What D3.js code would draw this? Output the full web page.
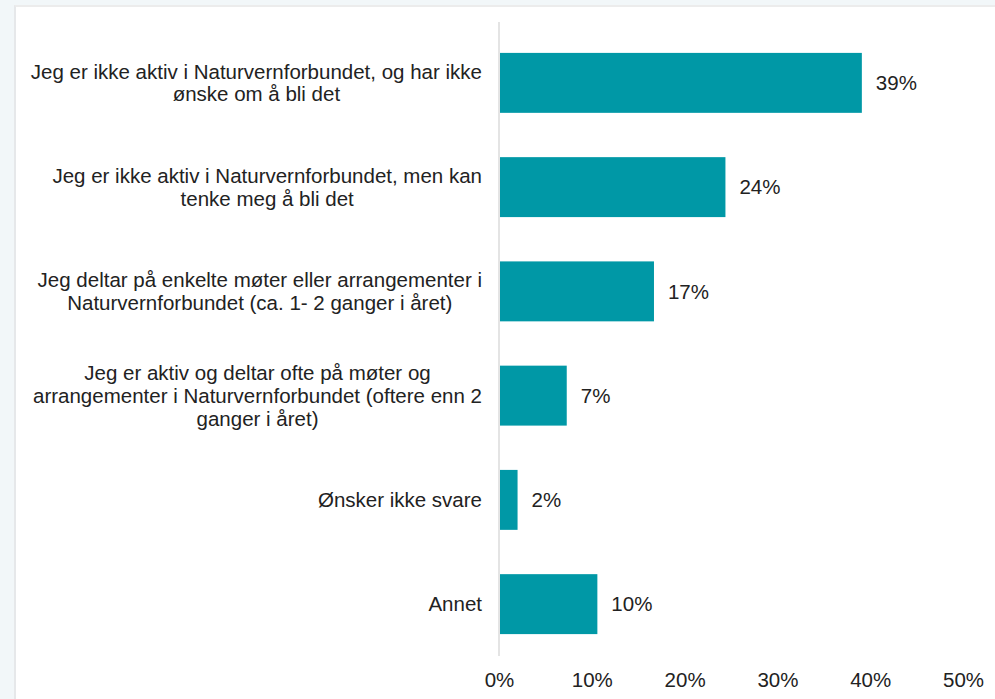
<!DOCTYPE html>
<html>
<head>
<meta charset="utf-8">
<script src="https://cdn.jsdelivr.net/npm/d3@7"></script>
<style>
  html, body { margin: 0; padding: 0; background: #f2f7f9; }
  #chart { position: absolute; left: 14px; top: 5px; width: 981px; height: 694px;
           background: #fff; border-left: 2px solid #e6e8ea; border-top: 2px solid #ececec; }
  text { font-family: "Liberation Sans", Arial, sans-serif; }
</style>
</head>
<body>
<div id="chart"></div>
<script>
// categories (each entry = lines of the wrapped label)
const categories = [
  ["Jeg er ikke aktiv i Naturvernforbundet, og har ikke", "ønske om å bli det"],
  ["Jeg er ikke aktiv i Naturvernforbundet, men kan", "tenke meg å bli det"],
  ["Jeg deltar på enkelte møter eller arrangementer i", "Naturvernforbundet (ca. 1- 2 ganger i året)"],
  ["Jeg er aktiv og deltar ofte på møter og", "arrangementer i Naturvernforbundet (oftere enn 2", "ganger i året)"],
  ["Ønsker ikke svare"],
  ["Annet"]
];
const values = [39.1, 24.4, 16.7, 7.3, 2.0, 10.6];
const valueLabels = ["39%", "24%", "17%", "7%", "2%", "10%"];
const tickValues = [0, 10, 20, 30, 40, 50];

const W = 995, H = 699;
const FS = "20.5px";
const svg = d3.select("body").append("svg")
  .attr("width", W).attr("height", H)
  .style("position", "absolute").style("left", 0).style("top", 0);

const x = d3.scaleLinear().domain([0, 50]).range([499, 963]);
const y = d3.scaleBand().domain(d3.range(categories.length))
  .range([31, 656]).paddingInner(0.425).paddingOuter(0.21);

// axis line
svg.append("line")
  .attr("x1", x(0)).attr("x2", x(0))
  .attr("y1", 22).attr("y2", 656)
  .attr("stroke", "#e4e4e4").attr("stroke-width", 2);

// bars
svg.selectAll("rect.bar")
  .data(values)
  .enter().append("rect")
  .attr("class", "bar")
  .attr("x", x(0) + 1)
  .attr("y", (d, i) => y(i))
  .attr("width", d => x(d) - x(0) - 1)
  .attr("height", y.bandwidth())
  .attr("fill", "#0098a6");

// value labels
svg.selectAll("text.val")
  .data(values)
  .enter().append("text")
  .attr("class", "val")
  .attr("x", d => x(d) + 14)
  .attr("y", (d, i) => y(i) + y.bandwidth() / 2)
  .attr("dy", "0.35em")
  .attr("fill", "#222")
  .style("font-size", FS)
  .text((d, i) => valueLabels[i]);

// category labels: block right-aligned, lines centred inside the block
const lineH = 22.8;
const rightEdge = 482;
const lab = svg.selectAll("g.cat")
  .data(categories)
  .enter().append("g")
  .attr("class", "cat");

lab.each(function(lines, i) {
  const g = d3.select(this);
  const cy = y(i) + y.bandwidth() / 2;
  const y0 = cy - (lines.length - 1) * lineH / 2;
  const t = g.selectAll("text")
    .data(lines)
    .enter().append("text")
    .attr("text-anchor", "middle")
    .attr("fill", "#222")
    .style("font-size", FS)
    .attr("y", (d, j) => y0 + j * lineH)
    .attr("dy", "0.35em")
    .text(d => d);
  let maxW = 0;
  t.each(function() { maxW = Math.max(maxW, this.getComputedTextLength()); });
  t.attr("x", rightEdge - maxW / 2);
});

// x axis tick labels
const xAxis = d3.axisBottom(x)
  .tickValues(tickValues)
  .tickSize(0)
  .tickPadding(0)
  .tickFormat(d => d + "%");
const ax = svg.append("g")
  .attr("transform", "translate(0,672)")
  .call(xAxis);
ax.select(".domain").remove();
ax.selectAll("text")
  .attr("fill", "#222")
  .style("font-size", FS)
  .style("font-family", "'Liberation Sans', Arial, sans-serif");
</script>
</body>
</html>
